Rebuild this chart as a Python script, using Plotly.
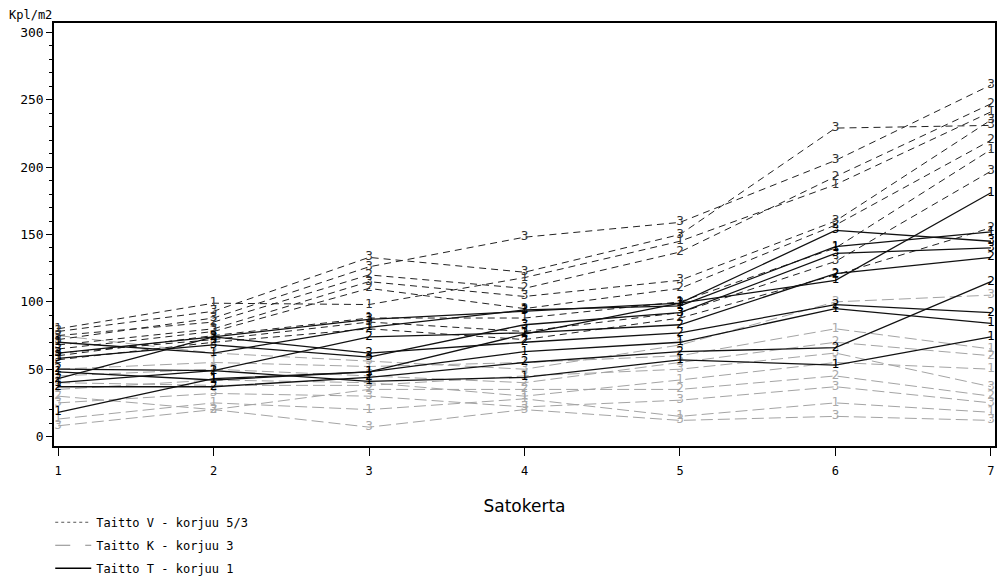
import plotly.graph_objects as go

# Harvest rounds (Satokerta)
rounds = [1, 2, 3, 4, 5, 6, 7]

# Taitto V - korjuu 5/3 : plot label and Kpl/m2 per round
v_labels = ["3", "3", "2", "1", "3", "2", "1", "3", "2"]
v_values = [
    [78, 93, 133, 122, 150, 229, 231],
    [72, 88, 126, 148, 159, 205, 261],
    [75, 85, 120, 110, 137, 193, 247],
    [80, 99, 98, 118, 145, 187, 241],
    [68, 80, 115, 104, 116, 160, 235],
    [65, 78, 110, 95, 110, 157, 220],
    [60, 75, 88, 88, 100, 140, 213],
    [62, 72, 85, 78, 92, 130, 197],
    [57, 70, 80, 72, 88, 120, 155],
]

# Taitto K - korjuu 3
k_labels = ["3", "1", "3", "2", "1", "3", "2", "1", "3"]
k_values = [
    [8, 20, 7, 20, 12, 15, 12],
    [13, 25, 20, 28, 15, 25, 18],
    [25, 32, 30, 22, 27, 37, 25],
    [30, 20, 35, 35, 35, 45, 30],
    [35, 42, 40, 30, 42, 55, 50],
    [40, 38, 38, 45, 50, 62, 37],
    [45, 50, 45, 40, 55, 70, 60],
    [50, 55, 52, 55, 60, 80, 65],
    [75, 62, 56, 50, 68, 100, 105],
]

# Taitto T - korjuu 1
t_labels = ["1", "3", "1", "3", "2", "2", "1", "2", "1"]
t_values = [
    [18, 43, 48, 76, 99, 116, 181],
    [62, 74, 87, 93, 99, 153, 145],
    [70, 62, 81, 94, 97, 141, 152],
    [58, 68, 59, 83, 92, 136, 140],
    [50, 49, 74, 77, 83, 121, 133],
    [43, 74, 62, 70, 77, 98, 92],
    [48, 42, 48, 63, 70, 95, 84],
    [37, 37, 44, 55, 63, 66, 115],
    [40, 49, 41, 44, 57, 53, 74],
]

legend_names = ["Taitto V - korjuu 5/3", "Taitto K - korjuu 3", "Taitto T - korjuu 1"]

MONO = "DejaVu Sans Mono"

groups = [
    (k_labels, k_values, dict(color="#a4a4a4", width=1, dash="12px,5px"), "#a8a8a8"),
    (v_labels, v_values, dict(color="#222222", width=1, dash="7px,5px"), "#333333"),
    (t_labels, t_values, dict(color="#111111", width=1.3), "#000000"),
]

fig = go.Figure()
for labels, values, line, tcol in groups:
    for lab, ys in zip(labels, values):
        fig.add_trace(go.Scatter(
            x=rounds, y=ys, mode="lines+text",
            text=[lab] * len(rounds), textposition="middle center",
            textfont=dict(family="DejaVu Sans", size=12, color=tcol),
            line=line, showlegend=False, hoverinfo="skip",
        ))

# Legend entries
legend_styles = [
    dict(color="#555555", width=1, dash="dot"),
    dict(color="#888888", width=1, dash="longdash"),
    dict(color="#000000", width=1.5),
]
for i, (name, st) in enumerate(zip(legend_names, legend_styles)):
    fig.add_trace(go.Scatter(
        x=[None], y=[None], mode="lines", name=name, line=st,
        legendgroup=f"g{i}", showlegend=True,
    ))

fig.update_layout(
    width=1000, height=579,
    margin=dict(l=54, r=5, t=23, b=133, autoexpand=False),
    paper_bgcolor="white", plot_bgcolor="white",
    font=dict(family=MONO, size=12, color="black"),
    legend=dict(
        x=-0.004, y=-0.146, xanchor="left", yanchor="top",
        traceorder="grouped", tracegroupgap=4,
        font=dict(family=MONO, size=12, color="black"),
        bgcolor="rgba(0,0,0,0)", itemwidth=36,
    ),
    xaxis=dict(
        range=[0.974, 7.026], tickvals=rounds, ticktext=[str(r) for r in rounds],
        ticks="outside", ticklen=8, tickcolor="black",
        ticklabelstandoff=5,
        showline=True, linecolor="black", linewidth=1.5, mirror=True,
        showgrid=False, zeroline=False,
        tickfont=dict(family=MONO, size=12),
        title=dict(text="Satokerta", font=dict(family="DejaVu Sans", size=17), standoff=23),
    ),
    yaxis=dict(
        range=[-7, 307], tickvals=[0, 50, 100, 150, 200, 250, 300],
        ticks="outside", ticklen=6, tickcolor="black",
        minor=dict(dtick=10, tick0=0, ticks="outside", ticklen=3, tickcolor="black"),
        showline=True, linecolor="black", linewidth=1.5, mirror=True,
        showgrid=False, zeroline=False,
        tickfont=dict(family=MONO, size=13),
    ),
    annotations=[dict(
        text="Kpl/m2", x=0, y=1, xref="paper", yref="paper",
        xshift=-47, yshift=-1, xanchor="left", yanchor="bottom",
        showarrow=False, font=dict(family=MONO, size=12),
    )],
)

fig.write_html("out.html")
